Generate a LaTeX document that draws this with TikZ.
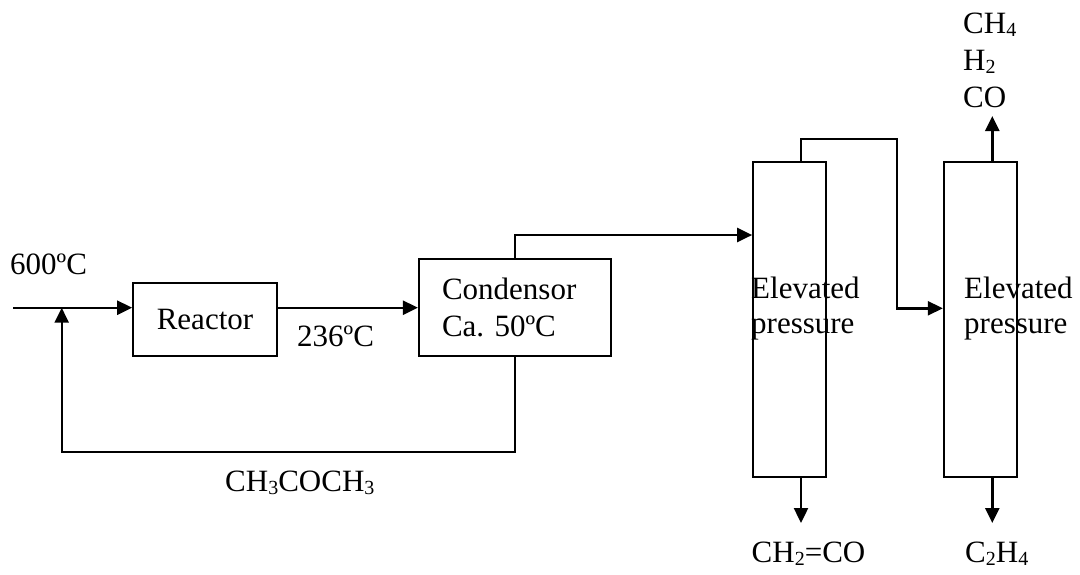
\documentclass[tikz,border=0pt]{standalone}
\usepackage{fontspec}
\setmainfont{Liberation Serif}
\usetikzlibrary{arrows.meta}
\newcommand{\chsub}[1]{\raisebox{-3pt}{\fontsize{20}{20}\selectfont #1}}
\begin{document}
\begin{tikzpicture}[x=1pt,y=-1pt,
  every node/.style={font=\fontsize{31}{37}\selectfont, inner sep=0pt},
  box/.style={draw, line width=2.2pt, rectangle},
  lbl/.style={anchor=base west},
  arr/.style={line width=2.4pt, -{Triangle[length=15pt,width=14pt]}},
  pipe/.style={line width=2.4pt}]
\useasboundingbox (0,0) rectangle (1080,574);

% units
\node[box, minimum width=143.5pt, minimum height=73pt] (reactor) at (205,319.5) {Reactor};
\node[box, minimum width=192pt, minimum height=97pt, text width=146pt, inner xsep=23pt, align=left] (cond) at (515,307.5) {Condensor\\Ca.\ 50ºC};
\node[box, minimum width=72.5pt, minimum height=314.5pt] (col1) at (789.5,319.5) {};
\node[box, minimum width=72.7pt, minimum height=314.5pt] (col2) at (980.3,319.5) {};

% texts
\node[lbl] (t600) at (10,274.3) {600ºC};
\node[lbl] (t236) at (297,346) {236ºC};
\node[lbl] (tacet) at (225,491.7) {CH\chsub{3}COCH\chsub{3}};
\node[lbl] (e1) at (751,298.3) {Elevated};
\node[lbl] (p1) at (751,333.5) {pressure};
\node[lbl] (e2) at (964,298.3) {Elevated};
\node[lbl] (p2) at (964,333.5) {pressure};
\node[lbl] (tch4) at (963,33.5) {CH\chsub{4}};
\node[lbl] (th2) at (963,70.5) {H\chsub{2}};
\node[lbl] (tco) at (963,107.5) {CO};
\node[lbl] (tket) at (751.5,562.7) {CH\chsub{2}=CO};
\node[lbl] (teth) at (965,562.7) {C\chsub{2}H\chsub{4}};

% coordinates
\coordinate (in) at (13,307.7);
\coordinate (junc) at (61.7,307.7);
\coordinate (rcb) at (61.7,452);
\coordinate (ctop) at (515,235);
\coordinate (bend1) at (897,139);
\coordinate (bend2) at (897,308.3);
\coordinate (out1) at (801,523);
\coordinate (out2) at (992.3,523);
\coordinate (out3) at (992.3,116);

% connectors
\draw[arr] (in) -- (in -| reactor.west);
\draw[arr] (reactor.east |- in) -- (cond.west |- in);
\draw[arr] (cond.south) |- (rcb) -- (junc);
\draw[arr] (cond.north) |- (col1.west |- ctop);
\draw[arr] ([xshift=11.5pt]col1.north) |- (bend1) |- (col2.west |- bend2);
\draw[arr] ([xshift=11.5pt]col1.south) -- (out1);
\draw[arr] ([xshift=12pt]col2.south) -- (out2);
\draw[arr] ([xshift=12pt]col2.north) -- (out3);
\end{tikzpicture}
\end{document}
